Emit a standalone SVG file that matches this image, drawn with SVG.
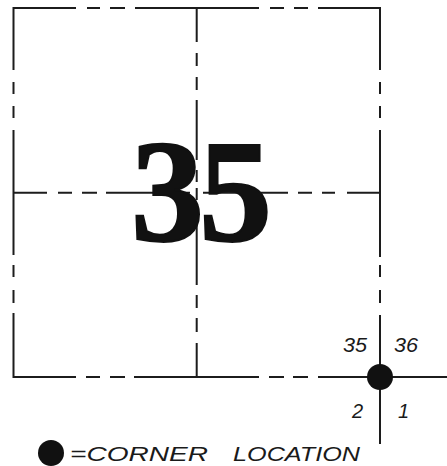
<svg xmlns="http://www.w3.org/2000/svg" width="447" height="466" viewBox="0 0 447 466">
<style>
.ln{stroke:#1c1c1c;stroke-width:2;fill:none;stroke-linecap:butt}
.dot{fill:#111}
.big{font-family:"Liberation Serif","Times New Roman",serif;font-weight:bold;font-size:146px;fill:#111;stroke:#111;stroke-width:2}
.lab{font-family:"Liberation Sans",Arial,sans-serif;font-style:italic;font-size:20px;fill:#1a1a1a}
.leg{font-family:"Liberation Sans",Arial,sans-serif;font-style:italic;font-size:21px;fill:#1a1a1a}
</style>
<rect width="447" height="466" fill="#fff"/>
<g id="connectors" class="ln">
<path id="top" d="M13.5 8H76M87 8H100M110 8H125M135 8H259M270 8H284M294 8H308M318 8H380"/>
<path id="bottom" d="M13.5 377H76M86 377H100M110 377H125M134 377H259M269 377H284M293 377H308M318 377H447"/>
<path id="left" d="M13.5 7V70M13.5 82V94M13.5 106V118M13.5 130V255M13.5 265V277M13.5 290V303M13.5 313V378"/>
<path id="right" d="M380 7V70M380 82V94M380 106V118M380 130V257M380 265V277M380 290V303M380 315V444"/>
<path id="midv" d="M196.7 8V42M196.7 53V66M196.7 77V90M196.7 100V160M196.7 170V182M196.7 188V200M196.7 206V213M196.7 222V285M196.7 295V308M196.7 318V332M196.7 343V377"/>
<path id="midh" d="M13.5 192.7H47M58 192.7H72M82 192.7H97M106 192.7H190M203 192.7H288M298 192.7H312M322 192.7H335M347 192.7H380"/>
</g>
<g id="section-number">
<text class="big" x="199" y="241" text-anchor="middle" letter-spacing="-5">35</text>
</g>
<g id="corner">
<circle class="dot" cx="380" cy="377" r="13"/>
<text class="lab" x="343" y="352" textLength="24" lengthAdjust="spacingAndGlyphs">35</text>
<text class="lab" x="394" y="352" textLength="24" lengthAdjust="spacingAndGlyphs">36</text>
<text class="lab" x="352" y="418">2</text>
<text class="lab" x="398" y="418">1</text>
</g>
<g id="legend">
<circle class="dot" cx="51" cy="453" r="13"/>
<text class="leg" y="461"><tspan x="70" textLength="138" lengthAdjust="spacingAndGlyphs">=CORNER</tspan> <tspan x="233" textLength="127" lengthAdjust="spacingAndGlyphs">LOCATION</tspan></text>
</g>
</svg>
